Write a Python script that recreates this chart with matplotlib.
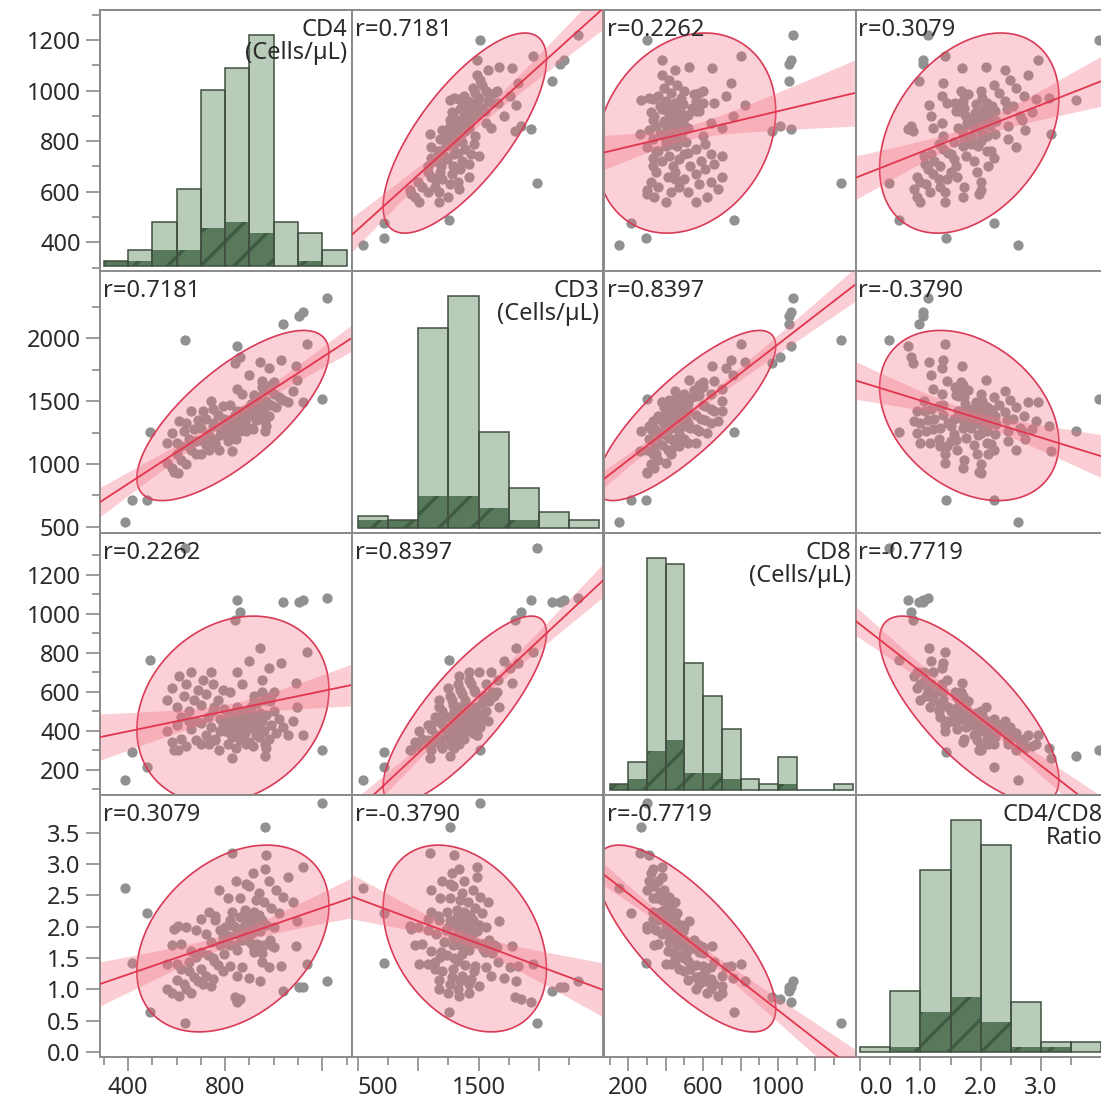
import numpy as np
import matplotlib.pyplot as plt
from matplotlib.patches import Polygon

plt.rcParams['font.family'] = ['Noto Sans', 'DejaVu Sans']
plt.rcParams['hatch.linewidth'] = 2.5

# ---- data ----
names = ['CD4\n(Cells/µL)', 'CD3\n(Cells/µL)', 'CD8\n(Cells/µL)', 'CD4/CD8\nRatio']

cd4 = [1221, 1119, 1105, 1037, 848, 860, 840, 635, 1200, 1119, 1135, 388, 416, 478, 490, 827, 606, 963, 970,
       720, 740, 760, 780, 800, 810, 820, 830, 840, 850, 860, 870, 880, 890, 900, 910, 920, 930, 940, 950,
       960, 970, 980, 990, 1000, 1010, 1020, 1040, 775, 795, 815, 845, 865, 885, 905, 925, 945, 965, 985, 730,
       755, 880, 915, 1060, 1080,
       560, 580, 600, 610, 630, 640, 650, 660, 670, 690, 700, 710, 720, 740, 750, 770, 790, 620,
       560, 580, 600, 620, 640, 660, 680, 700, 590, 650,
       820, 850, 870, 900, 920, 950, 980, 1000, 1030, 1090, 1094, 942,
       790, 810, 830, 850, 870, 890, 910, 930, 950, 820, 860, 900, 940, 760, 780, 800, 840, 880, 920, 960,
       990, 735, 700, 680, 750]

cd3 = [2319, 2207, 2175, 2111, 1936, 1850, 1800, 1985, 1513, 1490, 1952, 539, 714, 714, 1257, 1100, 930, 1260, 1300,
       1150, 1210, 1160, 1290, 1250, 1180, 1350, 1240, 1320, 1420, 1260, 1360, 1320, 1440, 1290, 1420, 1380, 1530, 1360, 1450,
       1410, 1500, 1380, 1470, 1560, 1450, 1530, 1510, 1110, 1360, 1300, 1200, 1390, 1260, 1480, 1350, 1490, 1340, 1590, 1240,
       1330, 1350, 1280, 1490, 1580,
       1170, 1250, 1170, 1340, 1260, 1330, 1200, 1420, 1280, 1350, 1290, 1420, 1360, 1500, 1440, 1390, 1460, 1140,
       1010, 970, 1080, 1030, 1000, 1110, 1080, 1190, 940, 1140,
       1470, 1600, 1560, 1710, 1550, 1660, 1760, 1650, 1830, 1780, 1670, 1810,
       1290, 1340, 1300, 1360, 1420, 1380, 1450, 1440, 1610, 1260, 1320, 1380, 1430, 1170, 1230, 1310, 1390, 1400, 1540, 1580,
       1630, 1110, 1080, 1180, 1300]

cd8 = [1081, 1071, 1062, 1061, 1071, 1010, 969, 1340, 302, 379, 805, 148, 292, 215, 763, 261, 302, 268, 309,
       380, 420, 350, 460, 400, 330, 480, 370, 420, 520, 350, 440, 390, 500, 340, 460, 410, 540, 370, 450,
       400, 480, 360, 430, 500, 390, 460, 420, 300, 510, 440, 310, 470, 330, 520, 380, 490, 330, 550, 470,
       520, 420, 320, 380, 450,
       560, 620, 520, 680, 580, 640, 500, 700, 560, 610, 530, 660, 590, 700, 640, 560, 610, 470,
       400, 340, 430, 360, 320, 410, 350, 440, 300, 450,
       600, 700, 640, 760, 580, 660, 720, 600, 750, 645, 523, 826,
       430, 470, 410, 450, 490, 430, 480, 450, 600, 390, 400, 420, 430, 360, 400, 450, 490, 460, 560, 560,
       580, 330, 330, 450, 500]

ratio = [1.13, 1.04, 1.04, 0.98, 0.79, 0.85, 0.87, 0.47, 3.97, 2.95, 1.41, 2.62, 1.42, 2.22, 0.64, 3.17, 2.01, 3.59, 3.14,
         1.89, 1.76, 2.17, 1.70, 2.00, 2.45, 1.71, 2.24, 2.00, 1.63, 2.46, 1.98, 2.26, 1.78, 2.65, 1.98, 2.24, 1.72, 2.54, 2.11,
         2.40, 2.02, 2.72, 2.30, 2.00, 2.59, 2.22, 2.48, 2.58, 1.56, 1.85, 2.73, 1.84, 2.68, 1.74, 2.43, 1.93, 2.92, 1.79, 1.55,
         1.45, 2.10, 2.86, 2.79, 2.40,
         1.00, 0.94, 1.15, 0.90, 1.09, 1.00, 1.30, 0.94, 1.20, 1.13, 1.32, 1.08, 1.22, 1.06, 1.17, 1.38, 1.30, 1.32,
         1.40, 1.71, 1.40, 1.72, 2.00, 1.61, 1.94, 1.59, 1.97, 1.44,
         1.37, 1.21, 1.36, 1.18, 1.59, 1.44, 1.36, 1.67, 1.37, 1.69, 2.09, 1.14,
         1.84, 1.72, 2.02, 1.89, 1.78, 2.07, 1.90, 2.07, 1.58, 2.10, 2.15, 2.14, 2.19, 2.11, 1.95, 1.78, 1.71, 1.91, 1.64, 1.71,
         1.71, 2.23, 2.12, 1.51, 1.50]

r_labels = {(0, 1): 0.7181, (0, 2): 0.2262, (0, 3): 0.3079,
            (1, 2): 0.8397, (1, 3): -0.3790, (2, 3): -0.7719}

# histograms on the diagonal: bin edges, all rows, highlighted rows
cd4_edges = [300, 400, 500, 600, 700, 800, 900, 1000, 1100, 1200, 1300]
cd4_counts = [1, 3, 8, 14, 32, 36, 42, 8, 6, 3]
cd4_sel = [1, 1, 3, 3, 7, 8, 6, 0, 1, 0]
cd3_edges = [500, 750, 1000, 1250, 1500, 1750, 2000, 2250, 2500]
cd3_counts = [3, 2, 50, 58, 24, 10, 4, 2]
cd3_sel = [2, 2, 8, 8, 5, 2, 0, 0]
cd8_edges = [100, 200, 300, 400, 500, 600, 700, 800, 900, 1000, 1100, 1200, 1300, 1400]
cd8_counts = [1, 5, 42, 41, 23, 17, 11, 2, 1, 6, 0, 0, 1]
cd8_sel = [1, 2, 7, 9, 3, 3, 2, 0, 0, 1, 0, 0, 0]
ratio_edges = [0, 0.5, 1.0, 1.5, 2.0, 2.5, 3.0, 3.5, 4.0]
ratio_counts = [1, 12, 36, 46, 41, 10, 2, 2]
ratio_sel = [0, 1, 8, 11, 6, 1, 1, 0]

data = [np.array(cd4, float), np.array(cd3, float), np.array(cd8, float), np.array(ratio, float)]
hists = [(cd4_edges, cd4_counts, cd4_sel), (cd3_edges, cd3_counts, cd3_sel),
         (cd8_edges, cd8_counts, cd8_sel), (ratio_edges, ratio_counts, ratio_sel)]

lims = [(285, 1320), (452, 2534), (70, 1415), (-0.08, 4.1)]
ymajor = [[400, 600, 800, 1000, 1200], [500, 1000, 1500, 2000], [200, 400, 600, 800, 1000, 1200],
          [0, 0.5, 1, 1.5, 2, 2.5, 3, 3.5]]
yminor = [np.arange(300, 1301, 100), np.arange(750, 2300, 500), np.arange(100, 1301, 200), []]
ylabels = [['400', '600', '800', '1000', '1200'], ['500', '1000', '1500', '2000'],
           ['200', '400', '600', '800', '1000', '1200'],
           ['0.0', '0.5', '1.0', '1.5', '2.0', '2.5', '3.0', '3.5']]
xmajor = [[400, 800, 1200], [500, 1000, 1500, 2000], [200, 400, 600, 800, 1000, 1200],
          [0, 1, 2, 3]]
xminor = [np.arange(300, 1301, 100), np.arange(750, 2500, 500), np.arange(100, 1400, 200), [0.5, 1.5, 2.5, 3.5]]
xlabels = [['400', '800', ''], ['500', '', '1500', ''], ['200', '', '600', '', '1000', ''],
           ['0.0', '1.0', '2.0', '3.0']]

# ---- layout in pixels ----
W, H = 1101, 1109
lefts = [100, 352, 604, 855.5]
tops = [9.5, 271, 533, 795]
pw, ph = 251.5, 262

pt_col = '#919191'
frame = '#8a8a8a'
txt = '#2b2b2b'
light = '#b9cbb9'
dark_edge = '#3f4f40'

fig = plt.figure(figsize=(W / 100, H / 100), dpi=100)
chi = np.sqrt(5.991)  # 95% density ellipse

for i in range(4):
    for j in range(4):
        ax = fig.add_axes([lefts[j] / W, 1 - (tops[i] + ph) / H, pw / W, ph / H])
        ax.set_xlim(lims[j])
        ax.set_ylim(lims[i])
        for s in ax.spines.values():
            s.set_color(frame)
            s.set_linewidth(1.4)
        ax.tick_params(which='both', direction='out', color=frame, labelcolor=txt, labelsize=17)
        ax.tick_params(which='major', length=10, width=1.2, pad=4)
        ax.tick_params(which='minor', length=6, width=1.2)
        if j == 0:
            ax.set_yticks(ymajor[i])
            ax.set_yticklabels(ylabels[i])
            ax.set_yticks(yminor[i], minor=True)
        else:
            ax.set_yticks([])
            ax.tick_params(which='both', left=False)
        if i == 3:
            ax.set_xticks(xmajor[j])
            ax.set_xticklabels(xlabels[j])
            ax.set_xticks(xminor[j], minor=True)
            if j in (1, 3):
                ax.get_xticklabels()[0].set_ha('left')
        else:
            ax.set_xticks([])
            ax.tick_params(which='both', bottom=False)

        if i == j:
            edges, counts, sel = hists[i]
            edges = np.array(edges, float)
            widths = np.diff(edges)
            hax = ax.twinx()
            hax.bar(edges[:-1], counts, width=widths, align='edge', color=light, lw=0)
            hax.bar(edges[:-1], sel, width=widths, align='edge', color='#58795b',
                    edgecolor='#3f5c42', hatch='/', lw=0)
            hax.bar(edges[:-1], counts, width=widths, align='edge', fill=False,
                    edgecolor=dark_edge, lw=1.1)
            m = max(counts)
            hax.set_ylim(-0.0216 * m, 1.108 * m)
            hax.set_yticks([])
            hax.tick_params(which='both', right=False)
            for s in hax.spines.values():
                s.set_color(frame)
                s.set_linewidth(1.4)
            hax.text(1 - 4 / pw, 1 - 8 / ph, names[i], transform=hax.transAxes, ha='right', va='top',
                     fontsize=17, color=txt, linespacing=0.95, zorder=10)
            continue

        x = data[j]
        y = data[i]
        ax.scatter(x, y, s=55, c=pt_col, lw=0, zorder=1)

        # density ellipse drawn over the points
        mu = np.array([x.mean(), y.mean()])
        L = np.linalg.cholesky(np.cov(x, y))
        t = np.linspace(0, 2 * np.pi, 200)
        pts = mu[:, None] + chi * L @ np.vstack([np.cos(t), np.sin(t)])
        ax.add_patch(Polygon(pts.T, closed=True, facecolor=(0.95, 0.40, 0.47, 0.30),
                             edgecolor='#d93a55', lw=1.2, zorder=2))

        # linear fit with confidence band
        n = len(x)
        b, a = np.polyfit(x, y, 1)
        res = y - (a + b * x)
        s_err = np.sqrt(np.sum(res ** 2) / (n - 2))
        sxx = np.sum((x - x.mean()) ** 2)
        xs = np.linspace(lims[j][0], lims[j][1], 100)
        fit = a + b * xs
        se = s_err * np.sqrt(1 / n + (xs - x.mean()) ** 2 / sxx)
        ax.fill_between(xs, fit - 1.98 * se, fit + 1.98 * se, color=(0.95, 0.45, 0.52, 0.35), lw=0, zorder=3)
        ax.plot(xs, fit, color='#e2364e', lw=1.3, zorder=4)

        r = r_labels[(min(i, j), max(i, j))]
        ax.text(3 / pw, 1 - 8 / ph, f'r={r:.4f}', transform=ax.transAxes, ha='left', va='top',
                fontsize=17, color=txt, zorder=10)

fig.savefig('out.png', dpi=100)
